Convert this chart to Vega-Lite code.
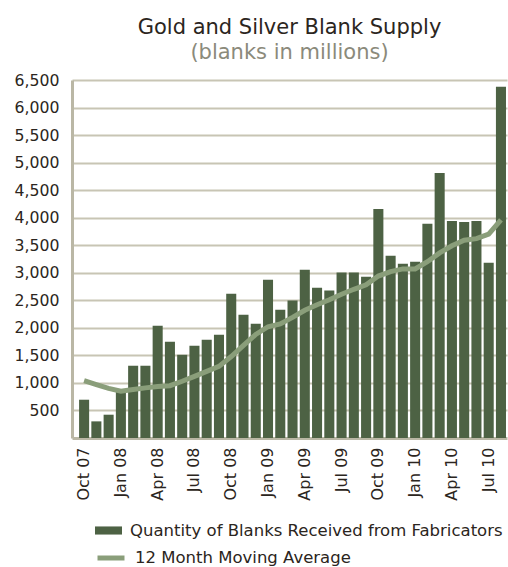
{
  "$schema": "https://vega.github.io/schema/vega-lite/v6.json",
  "width": 435,
  "height": 358,
  "autosize": {"type": "none"},
  "padding": {"left": 72, "top": 80, "right": 1, "bottom": 129},
  "background": "white",
  "title": {
    "text": "Gold and Silver Blank Supply",
    "subtitle": "(blanks in millions)",
    "anchor": "middle",
    "font": "DejaVu Sans",
    "subtitleFont": "DejaVu Sans",
    "fontSize": 21,
    "subtitleFontSize": 21,
    "fontWeight": "normal",
    "color": "#2b2520",
    "subtitleColor": "#8b8a7b",
    "offset": 9,
    "subtitlePadding": 4
  },
  "config": {
    "view": {"stroke": null},
    "axis": {"labelFont": "DejaVu Sans", "labelColor": "#2b2520"},
    "legend": {"labelFont": "DejaVu Sans", "labelColor": "#2b2520", "labelLimit": 0}
  },
  "data": {
    "values": [
      {"month": "Oct 07", "qty": 695, "avg": 1040},
      {"month": "Nov 07", "qty": 302, "avg": 970},
      {"month": "Dec 07", "qty": 423, "avg": 900},
      {"month": "Jan 08", "qty": 845, "avg": 850},
      {"month": "Feb 08", "qty": 1312, "avg": 880},
      {"month": "Mar 08", "qty": 1312, "avg": 910},
      {"month": "Apr 08", "qty": 2037, "avg": 935},
      {"month": "May 08", "qty": 1747, "avg": 950},
      {"month": "Jun 08", "qty": 1511, "avg": 1030},
      {"month": "Jul 08", "qty": 1675, "avg": 1120},
      {"month": "Aug 08", "qty": 1784, "avg": 1210},
      {"month": "Sep 08", "qty": 1874, "avg": 1300},
      {"month": "Oct 08", "qty": 2618, "avg": 1480},
      {"month": "Nov 08", "qty": 2237, "avg": 1680},
      {"month": "Dec 08", "qty": 2074, "avg": 1880},
      {"month": "Jan 09", "qty": 2872, "avg": 2020},
      {"month": "Feb 09", "qty": 2327, "avg": 2070},
      {"month": "Mar 09", "qty": 2497, "avg": 2190},
      {"month": "Apr 09", "qty": 3053, "avg": 2320},
      {"month": "May 09", "qty": 2727, "avg": 2420},
      {"month": "Jun 09", "qty": 2678, "avg": 2510},
      {"month": "Jul 09", "qty": 3005, "avg": 2610},
      {"month": "Aug 09", "qty": 3005, "avg": 2700},
      {"month": "Sep 09", "qty": 2926, "avg": 2780},
      {"month": "Oct 09", "qty": 4160, "avg": 2940},
      {"month": "Nov 09", "qty": 3307, "avg": 3020},
      {"month": "Dec 09", "qty": 3162, "avg": 3070},
      {"month": "Jan 10", "qty": 3198, "avg": 3070},
      {"month": "Feb 10", "qty": 3888, "avg": 3200},
      {"month": "Mar 10", "qty": 4813, "avg": 3360},
      {"month": "Apr 10", "qty": 3942, "avg": 3490},
      {"month": "May 10", "qty": 3924, "avg": 3590},
      {"month": "Jun 10", "qty": 3942, "avg": 3620},
      {"month": "Jul 10", "qty": 3180, "avg": 3700},
      {"month": "Aug 10", "qty": 6379, "avg": 3960}
    ]
  },
  "layer": [
    {
      "mark": {"type": "bar"},
      "encoding": {
        "x": {
          "field": "month",
          "type": "ordinal",
          "sort": null,
          "scale": {"paddingInner": 0.18, "paddingOuter": 0.33, "align": 0.875},
          "axis": {
            "title": null,
            "labelAngle": -90,
            "labelAlign": "right",
            "labelBaseline": "middle",
            "ticks": false,
            "labelPadding": 9,
            "labelFontSize": 16,
            "labelOverlap": false,
            "domainColor": "#bab7a5",
            "domainWidth": 3,
            "labelExpr": "indexof(['Oct','Jan','Apr','Jul'], slice(datum.label,0,3)) >= 0 ? datum.label : ''"
          }
        },
        "y": {
          "field": "qty",
          "type": "quantitative",
          "scale": {"domain": [0, 6500], "nice": false},
          "axis": {
            "title": null,
            "values": [500, 1000, 1500, 2000, 2500, 3000, 3500, 4000, 4500, 5000, 5500, 6000, 6500],
            "tickCount": 20,
            "format": ",d",
            "labelOverlap": false,
            "ticks": false,
            "labelPadding": 13,
            "labelFontSize": 15.7,
            "domainColor": "#bab7a5",
            "domainWidth": 3,
            "grid": true,
            "gridColor": "#c8c5b4",
            "gridWidth": 2
          }
        },
        "color": {
          "datum": "Quantity of Blanks Received from Fabricators",
          "scale": {"range": ["#4d6244"]},
          "legend": {
            "orient": "none",
            "legendX": 23,
            "legendY": 437,
            "title": null,
            "padding": 0,
            "symbolType": "M-1,-0.3H1V0.3H-1Z",
            "symbolSize": 729,
            "symbolStrokeWidth": 0,
            "labelFontSize": 16.5,
            "labelOffset": 8
          }
        }
      }
    },
    {
      "mark": {"type": "line", "strokeWidth": 5},
      "encoding": {
        "x": {"field": "month", "type": "ordinal", "sort": null},
        "y": {"field": "avg", "type": "quantitative"},
        "stroke": {
          "datum": "12 Month Moving Average",
          "scale": {"range": ["#8a9e7a"]},
          "legend": {
            "orient": "none",
            "legendX": 23,
            "legendY": 462,
            "title": null,
            "padding": 0,
            "symbolType": "stroke",
            "symbolSize": 729,
            "symbolStrokeWidth": 5,
            "labelFontSize": 16.5,
            "labelOffset": 8
          }
        }
      }
    }
  ]
}
